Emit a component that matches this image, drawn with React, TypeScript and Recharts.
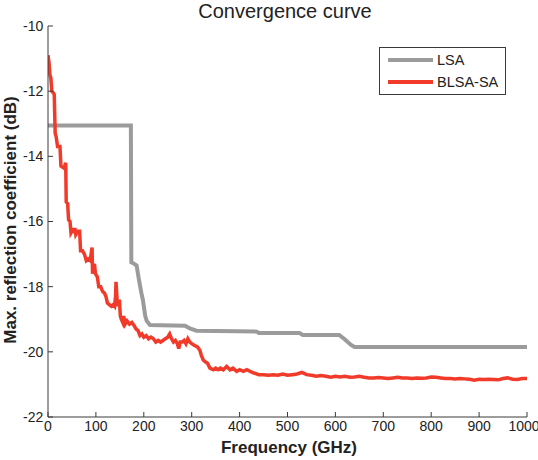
import { LineChart, Line, XAxis, YAxis, Legend } from 'recharts'

const FONT = '"Liberation Sans", Arial, Helvetica, sans-serif'
const AXIS_COLOR = '#3a3a3a'

const freqTicks = [0, 100, 200, 300, 400, 500, 600, 700, 800, 900, 1000]
const dbTicks = [-22, -20, -18, -16, -14, -12, -10]

// LSA: flat start, one big drop, then a few slow steps
const lsaFreq = [0, 173, 174, 180, 185, 190, 195, 198, 203, 206, 213, 286, 296, 310, 436, 440, 525, 532, 608, 620, 632, 640, 1000]
const lsaDb = [
  -13.05, -13.05, -17.25, -17.3, -17.35, -17.8, -18.2, -18.4, -18.9, -19.05, -19.18, -19.2, -19.28, -19.35,
  -19.38, -19.42, -19.42, -19.48, -19.48, -19.62, -19.78, -19.85, -19.85,
]

// BLSA-SA: noisy descent that settles near -20.8 dB
const blsaFreq = [
  0, 2, 4, 6, 8, 11, 13, 15, 17, 20, 25, 27, 32, 35, 37, 38, 41, 43, 46, 48, 50, 52, 54, 56, 58, 62, 66, 68, 72,
  76, 80, 84, 88, 90, 92, 93, 95, 97, 99, 103, 106, 110, 114, 118, 121, 124, 128, 132, 136, 139, 141, 142, 143,
  145, 147, 149, 151, 153, 156, 158, 161, 165, 170, 175, 180, 184, 188, 192, 196, 200, 205, 210, 215, 220, 225,
  230, 235, 240, 245, 250, 254, 258, 262, 266, 270, 273, 276, 280, 284, 288, 292, 296, 300, 305, 312, 317, 320,
  324, 328, 333, 338, 345, 350, 355, 360, 366, 373, 380, 386, 394, 400, 408, 415, 422, 430, 440, 450, 460, 470,
  480, 490, 500, 510, 520, 530, 540, 550, 560, 570, 580, 590, 600, 610, 620, 630, 640, 650, 660, 670, 680, 690,
  700, 710, 720, 730, 740, 750, 760, 770, 780, 790, 800, 810, 820, 830, 840, 850, 860, 870, 880, 890, 900, 910,
  920, 930, 940, 950, 960, 970, 980, 990, 1000,
]
const blsaDb = [
  -10.9, -11.1, -11.5, -11.6, -12.0, -12.05, -12.1, -13.3, -13.4, -13.7, -13.7, -14.3, -14.35, -14.3, -14.2,
  -15.4, -15.45, -15.95, -16.0, -16.35, -16.3, -16.2, -16.35, -16.2, -16.4, -16.3, -16.3, -16.9, -16.9, -17.0,
  -17.2, -17.15, -17.2, -17.0, -16.8, -17.6, -17.4, -17.3, -17.6, -17.7, -18.0, -18.0, -18.15, -18.2, -18.3,
  -18.5, -18.55, -18.6, -18.55, -18.6, -18.3, -17.85, -18.1, -18.6, -18.5, -18.4, -18.9, -19.0, -19.1, -18.9,
  -19.15, -19.05, -19.15, -19.1, -19.2, -19.3, -19.35, -19.5, -19.45, -19.55, -19.5, -19.6, -19.55, -19.6,
  -19.7, -19.65, -19.7, -19.65, -19.6, -19.55, -19.45, -19.6, -19.7, -19.65, -19.75, -19.9, -19.7, -19.7,
  -19.65, -19.75, -19.6, -19.7, -19.75, -19.8, -19.85, -19.95, -20.1, -20.25, -20.3, -20.35, -20.5, -20.55,
  -20.5, -20.55, -20.5, -20.55, -20.45, -20.55, -20.5, -20.6, -20.55, -20.6, -20.55, -20.6, -20.65, -20.7,
  -20.7, -20.72, -20.7, -20.72, -20.68, -20.72, -20.7, -20.68, -20.63, -20.7, -20.72, -20.75, -20.73, -20.75,
  -20.78, -20.75, -20.77, -20.75, -20.78, -20.77, -20.75, -20.78, -20.8, -20.8, -20.79, -20.8, -20.82, -20.8,
  -20.78, -20.8, -20.8, -20.82, -20.8, -20.81, -20.8, -20.77, -20.78, -20.8, -20.82, -20.82, -20.83, -20.82,
  -20.83, -20.84, -20.87, -20.84, -20.85, -20.84, -20.85, -20.86, -20.82, -20.8, -20.84, -20.85, -20.82, -20.82,
]

const series = [
  { name: 'LSA', color: '#9b9b9b', width: 4, data: lsaFreq.map((freq, i) => ({ freq, value: lsaDb[i] })) },
  { name: 'BLSA-SA', color: '#f23a2a', width: 3.5, data: blsaFreq.map((freq, i) => ({ freq, value: blsaDb[i] })) },
]

function LegendBox() {
  return (
    <div
      style={{
        width: 125,
        height: 45,
        border: `1px solid ${AXIS_COLOR}`,
        background: '#fff',
        fontFamily: FONT,
        fontSize: 14.5,
        color: '#222',
        paddingTop: 1,
        boxSizing: 'content-box',
      }}
    >
      {series.map((s) => (
        <div key={s.name} style={{ display: 'flex', alignItems: 'center', height: 22 }}>
          <span style={{ width: 45, height: 4, background: s.color, marginLeft: 8, marginRight: 4 }} />
          <span>{s.name}</span>
        </div>
      ))}
    </div>
  )
}

const tickStyle = { fontSize: 14, fill: '#222', fontFamily: FONT }
const emptyLabel = () => ''

export default function App() {
  return (
    <div style={{ position: 'absolute', left: 0, top: 0, width: 538, height: 460, background: '#fff' }}>
      <LineChart width={538} height={460} margin={{ top: 26, right: 11, left: 8, bottom: 13 }}>
        <XAxis
          dataKey="freq"
          type="number"
          domain={[0, 1000]}
          ticks={freqTicks}
          height={30}
          tick={tickStyle}
          tickSize={-5}
          tickMargin={9.5}
          stroke={AXIS_COLOR}
          allowDataOverflow
        />
        <XAxis
          xAxisId="top"
          orientation="top"
          dataKey="freq"
          type="number"
          domain={[0, 1000]}
          ticks={freqTicks}
          height={0}
          tickSize={-5}
          tickFormatter={emptyLabel}
          stroke={AXIS_COLOR}
        />
        <YAxis
          type="number"
          domain={[-22, -10]}
          ticks={dbTicks}
          width={40}
          tick={tickStyle}
          tickSize={-5}
          tickMargin={9.7}
          stroke={AXIS_COLOR}
          allowDataOverflow
        />
        <YAxis
          yAxisId="right"
          orientation="right"
          type="number"
          domain={[-22, -10]}
          ticks={dbTicks}
          width={0}
          tickSize={-5}
          tickFormatter={emptyLabel}
          stroke={AXIS_COLOR}
        />
        <Legend
          layout="vertical"
          align="center"
          verticalAlign="middle"
          content={<LegendBox />}
          wrapperStyle={{ left: 379, top: 47, width: 127, height: 47 }}
        />
        {series.map((s) => (
          <Line
            key={s.name}
            name={s.name}
            data={s.data}
            dataKey="value"
            type="linear"
            stroke={s.color}
            strokeWidth={s.width}
            dot={false}
            activeDot={false}
            isAnimationActive={false}
          />
        ))}
      </LineChart>
      <svg
        width={538}
        height={460}
        style={{ position: 'absolute', left: 0, top: 0, pointerEvents: 'none' }}
        fontFamily={FONT}
      >
        <text x={285} y={18} textAnchor="middle" fontSize={20} fill="#222">
          Convergence curve
        </text>
        <text x={289} y={453} textAnchor="middle" fontSize={17} fontWeight="bold" fill="#222">
          Frequency (GHz)
        </text>
        <text
          transform="translate(16,220) rotate(-90)"
          textAnchor="middle"
          fontSize={17}
          fontWeight="bold"
          fill="#222"
        >
          Max. reflection coefficient (dB)
        </text>
      </svg>
    </div>
  )
}
